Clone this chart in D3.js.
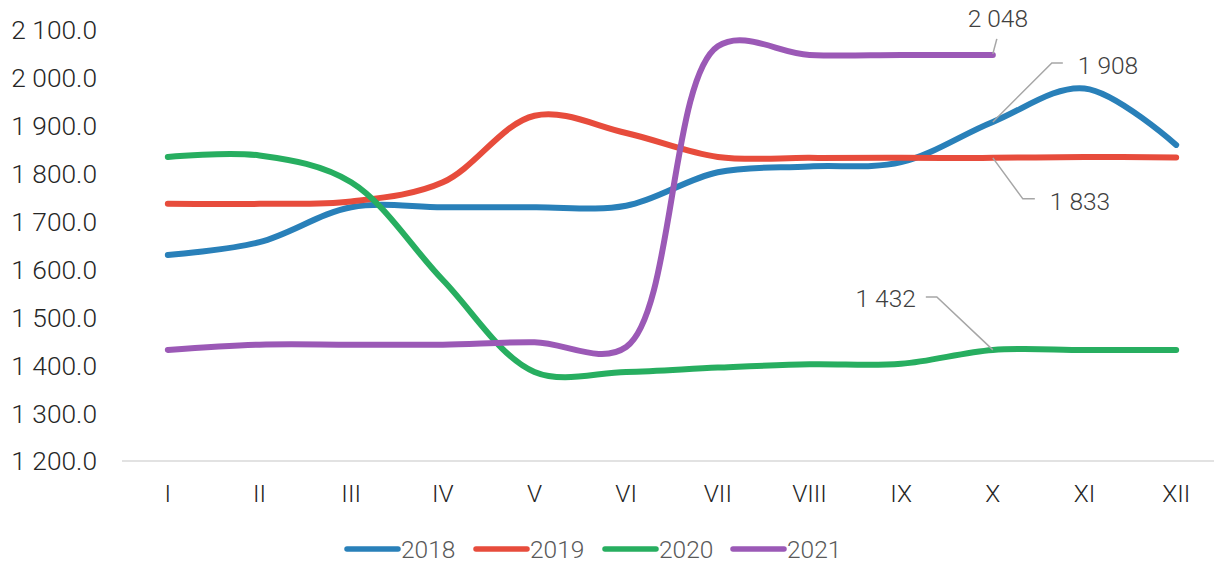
<!DOCTYPE html>
<html>
<head>
<meta charset="utf-8">
<script src="https://cdn.jsdelivr.net/npm/d3@7"></script>
<style>
  html, body { margin: 0; padding: 0; background: #fff; }
  svg { display: block; font-family: Roboto, "Noto Sans", sans-serif; font-weight: 300; }
</style>
</head>
<body>
<svg id="chart" width="1214" height="561"></svg>
<script>
const months = ["I", "II", "III", "IV", "V", "VI", "VII", "VIII", "IX", "X", "XI", "XII"];
const years = ["2018", "2019", "2020", "2021"];
const values2018 = [1630, 1657, 1730, 1730, 1730, 1733, 1803, 1815, 1824, 1908, 1978, 1860];
const values2019 = [1737, 1737, 1742, 1782, 1921, 1885, 1835, 1833, 1833, 1833, 1835, 1834];
const values2020 = [1835, 1838, 1782, 1578, 1386, 1386, 1395, 1402, 1403, 1432, 1432, 1432];
const values2021 = [1432, 1443, 1443, 1443, 1448, 1438, 2066, 2048, 2048, 2048];
const yTicks = [1200, 1300, 1400, 1500, 1600, 1700, 1800, 1900, 2000, 2100];
// data labels shown on month X
const labels = [
  { year: "2021", month: "X", value: 2048 },
  { year: "2018", month: "X", value: 1908 },
  { year: "2019", month: "X", value: 1833 },
  { year: "2020", month: "X", value: 1432 }
];

const seriesValues = [values2018, values2019, values2020, values2021];
const colors = ["#2980b9", "#e74c3c", "#27ae60", "#9b59b6"];
const color = d3.scaleOrdinal().domain(years).range(colors);

const svg = d3.select("#chart");
const margin = { left: 122, right: 1222, top: 30, bottom: 461 };

const x = d3.scaleBand().domain(months).range([margin.left, margin.right]);
const y = d3.scaleLinear().domain([1200, 2100]).range([margin.bottom, margin.top]);
const cx = (m) => x(m) + x.bandwidth() / 2;

// y labels (no gridlines)
svg.append("g")
  .selectAll("text")
  .data(yTicks)
  .join("text")
  .attr("x", 97)
  .attr("y", (d) => y(d))
  .attr("dy", "0.36em")
  .attr("text-anchor", "end")
  .attr("font-size", 26.3)
  .attr("fill", "#262626")
  .text((d) => d3.format(",.1f")(d).replace(/,/g, " "));

// x axis line
svg.append("line")
  .attr("x1", margin.left).attr("x2", margin.right)
  .attr("y1", y(1200)).attr("y2", y(1200))
  .attr("stroke", "#d9d9d9")
  .attr("stroke-width", 1.5);

svg.append("g")
  .selectAll("text")
  .data(months)
  .join("text")
  .attr("x", (d) => cx(d))
  .attr("y", 502)
  .attr("text-anchor", "middle")
  .attr("font-size", 24.5)
  .attr("fill", "#262626")
  .text((d) => d);

const line = d3.line()
  .x((d) => cx(d.month))
  .y((d) => y(d.value))
  .curve(d3.curveCatmullRom.alpha(0.5));

years.forEach((yr, i) => {
  const pts = seriesValues[i].map((v, j) => ({ month: months[j], value: v }));
  svg.append("path")
    .datum(pts)
    .attr("d", line)
    .attr("fill", "none")
    .attr("stroke", color(yr))
    .attr("stroke-width", 6)
    .attr("stroke-linecap", "round")
    .attr("stroke-linejoin", "round");
});

// leader lines + label texts, offsets relative to the point
const labelStyle = {
  "2021": { path: [[4, -16]], tx: 5, ty: -28, anchor: "middle" },
  "2018": { path: [[59, -59], [70, -59]], tx: 85, ty: -48, anchor: "start" },
  "2019": { path: [[30, 41], [42, 41]], tx: 57, ty: 52, anchor: "start" },
  "2020": { path: [[-56, -53], [-67, -53]], tx: -77, ty: -43, anchor: "end" }
};

labels.forEach((l) => {
  const px = cx(l.month), py = y(l.value);
  const st = labelStyle[l.year];
  const start = l.year === "2021" ? [px, py - 1] : [px, py];
  const pts = [start].concat(st.path.map((p) => [px + p[0], py + p[1]]));
  svg.append("path")
    .attr("d", d3.line()(pts))
    .attr("fill", "none")
    .attr("stroke", "#a6a6a6")
    .attr("stroke-width", 1.5);
  svg.append("text")
    .attr("x", px + st.tx)
    .attr("y", py + st.ty)
    .attr("text-anchor", st.anchor)
    .attr("font-size", 24.5)
    .attr("fill", "#404040")
    .text(d3.format(",")(l.value).replace(/,/g, " "));
});

// legend
const legendX = [347, 476, 605, 733];
const legend = svg.append("g");
years.forEach((yr, i) => {
  legend.append("line")
    .attr("x1", legendX[i]).attr("x2", legendX[i] + 51)
    .attr("y1", 549).attr("y2", 549)
    .attr("stroke", color(yr))
    .attr("stroke-width", 5.5)
    .attr("stroke-linecap", "round");
  legend.append("text")
    .attr("x", legendX[i] + 54)
    .attr("y", 549)
    .attr("dy", "0.36em")
    .attr("font-size", 24.5)
    .attr("fill", "#595959")
    .text(yr);
});
</script>
</body>
</html>
